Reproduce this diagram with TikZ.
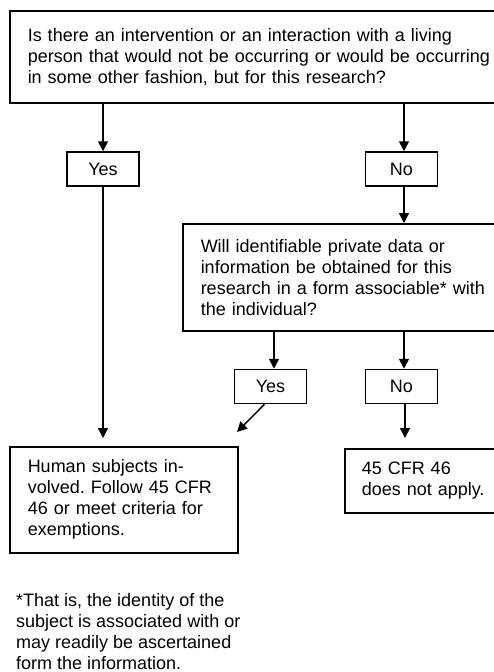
\documentclass[tikz,border=0pt]{standalone}
\usepackage{fontspec}
\setmainfont{Liberation Sans}
\frenchspacing
\usetikzlibrary{positioning,arrows.meta}

\tikzset{
	txt/.style={font=\fontsize{18}{21}\selectfont},
	box/.style={draw,txt,line width=1.5pt,anchor=north west,align=left,inner xsep=18pt,inner ysep=0pt},
	answer/.style={draw,txt,line width=1.5pt,minimum width=72pt,minimum height=34pt,inner sep=0pt},
	arr/.style={-{Triangle[length=10pt,width=10pt]},line width=1.5pt},
}

\begin{document}
\begin{tikzpicture}[x=1pt,y=-1pt]
	\useasboundingbox (0,0) rectangle (493,672);
	\node[box,text width=470pt,minimum height=92pt](question1) at (9,10){Is there an intervention or an interaction with a living\\person that would not be occurring or would be occurring\\in some other fashion, but for this research?};
	\node[answer](yes1) at (103,169){Yes};
	\node[answer](no1) at (401.5,169){No};
	\node[box,text width=290pt,minimum height=107pt](question2) at (182,223){Will identifiable private data or\\information be obtained for this\\research in a form associable* with\\the individual?};
	\node[answer](yes2) at (270.5,386.5){Yes};
	\node[answer](no2) at (401.5,386.5){No};
	\node[box,text width=192pt,minimum height=106pt](human) at (9,446){Human subjects in-\\volved. Follow 45 CFR\\46 or meet criteria for\\exemptions.};
	\node[box,text width=125pt,inner xsep=17pt,minimum height=64pt](noapply) at (344,448){45 CFR 46\\does not apply.};
	\node[txt,anchor=north west,align=left,inner sep=0pt](footnote) at (16,593){*That is, the identity of the\\subject is associated with or\\may readily be ascertained\\form the information.};
	\coordinate (corner) at (237,432);
	
	\draw[arr] (yes1 |- question1.south) -- (yes1.north);
	\draw[arr] ([xshift=2.5pt]no1.north |- question1.south) -- ([xshift=2.5pt]no1.north);
	\draw[arr] ([xshift=2.5pt]no1.south) -- ([xshift=2.5pt]no1.south |- question2.north);
	\draw[arr] ([xshift=3.5pt]yes2.north |- question2.south) -- ([xshift=3.5pt]yes2.north);
	\draw[arr] ([xshift=2.5pt]no2.north |- question2.south) -- ([xshift=2.5pt]no2.north);
	\draw[arr,shorten >=8pt] (yes1.south) -- (yes1 |- human.north);
	\draw[arr] ([xshift=-6pt]yes2.south) -- (corner);
	\draw[arr,shorten >=10pt] ([xshift=3.5pt]no2.south) -- ([xshift=3.5pt]no2.south |- noapply.north);
\end{tikzpicture}
\end{document}
